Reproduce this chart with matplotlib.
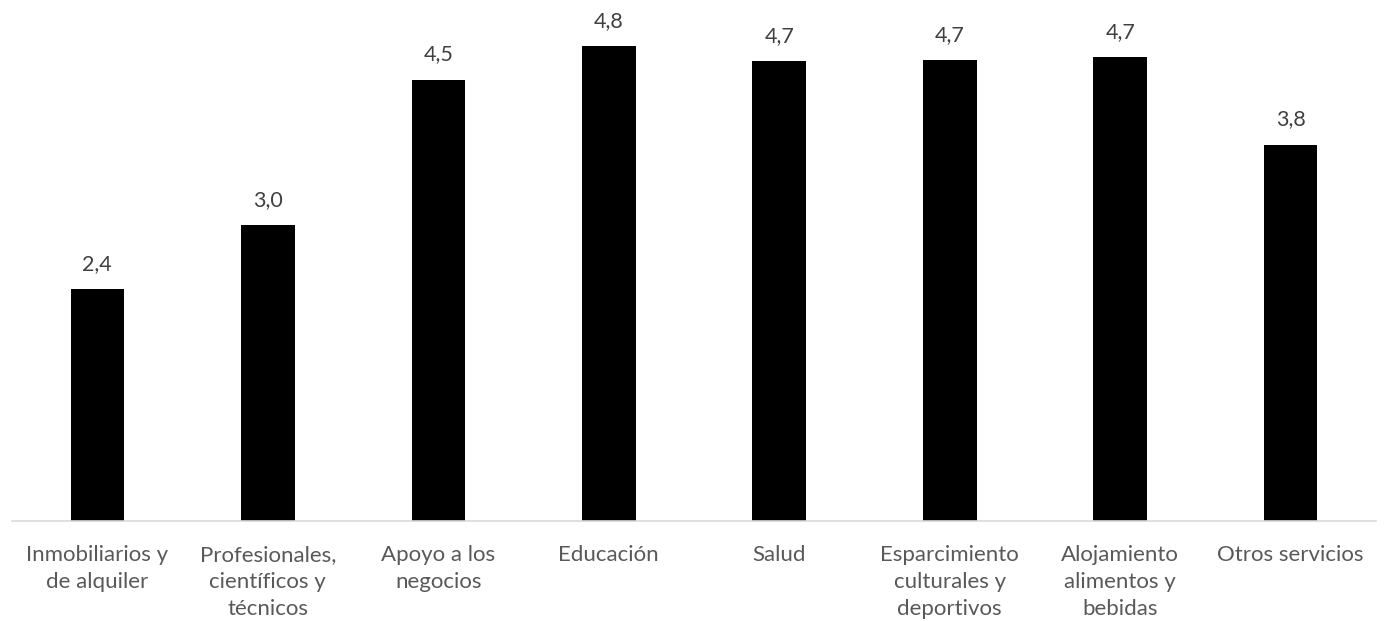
import matplotlib
matplotlib.use("Agg")
import matplotlib.pyplot as plt

plt.rcParams['font.family'] = ['Lato', 'DejaVu Sans']

categories = [
    "Inmobiliarios y\nde alquiler",
    "Profesionales,\ncientíficos y\ntécnicos",
    "Apoyo a los\nnegocios",
    "Educación",
    "Salud",
    "Esparcimiento\nculturales y\ndeportivos",
    "Alojamiento\nalimentos y\nbebidas",
    "Otros servicios",
]
values = [2.36, 3.01, 4.49, 4.83, 4.68, 4.69, 4.72, 3.83]

fig = plt.figure(figsize=(13.84, 6.21), dpi=100)
ax = fig.add_axes([0.0087, 0.161, 0.9855, 0.7915])

x = list(range(len(values)))
bars = ax.bar(x, values, width=0.314, color="black")

# value labels, one decimal with a comma
for b, v in zip(bars, values):
    ax.annotate(f"{v:.1f}".replace(".", ","),
                xy=(b.get_x() + b.get_width() / 2, b.get_height()),
                xytext=(0, 11), textcoords="offset points",
                ha="center", va="bottom", fontsize=15.5, color="#404040")

ax.set_xlim(-0.5, len(values) - 0.5)
ax.set_ylim(0, 5.0)
ax.set_xticks(x)
ax.set_xticklabels(categories, fontsize=16, color="#595959", linespacing=1.42)
ax.tick_params(axis="x", length=0, pad=17.5)
ax.set_yticks([])

for side in ["top", "right", "left"]:
    ax.spines[side].set_visible(False)
ax.spines["bottom"].set_color("#d9d9d9")
ax.spines["bottom"].set_linewidth(1.2)

fig.savefig("out.png", dpi=100)
